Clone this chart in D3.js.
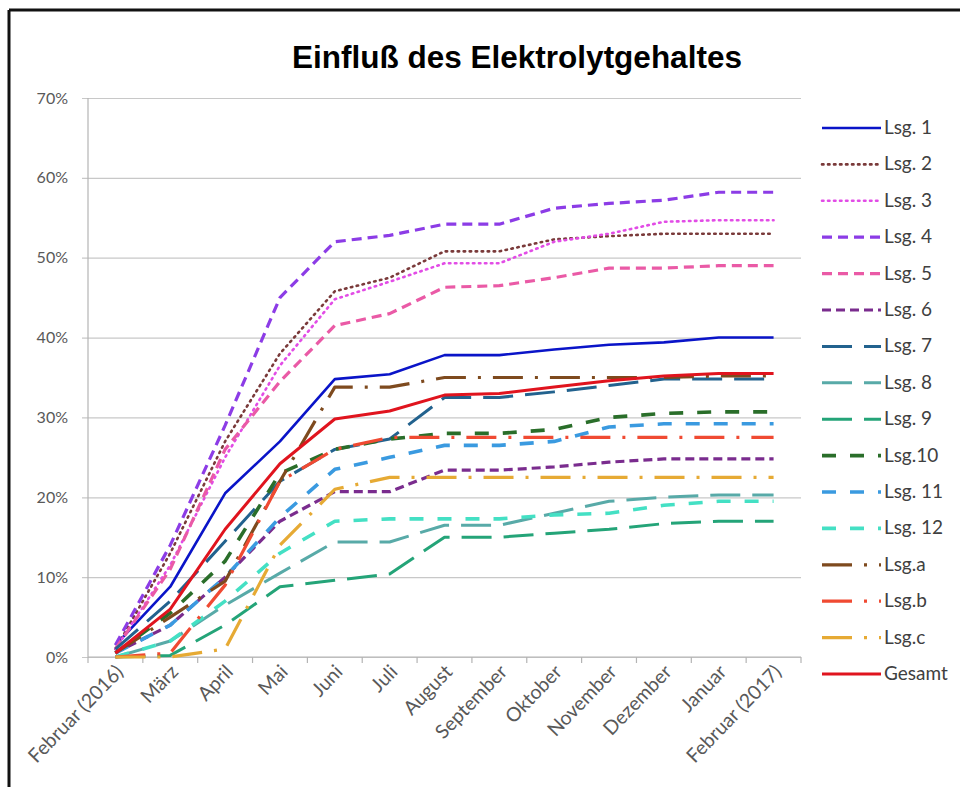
<!DOCTYPE html>
<html lang="de">
<head>
    <meta charset="UTF-8">
    <script src="https://d3js.org/d3.v7.min.js"></script>
    <title>Einfluß des Elektrolytgehaltes</title>
    <style>
        body {
            margin: 0;
            background-color: #ffffff;
        }
        .tick-label {
            font-family: Lato, "Open Sans", sans-serif;
            font-size: 16px;
            fill: #595959;
        }
        .x-label {
            font-family: Lato, "Open Sans", sans-serif;
            font-size: 19.5px;
            fill: #595959;
        }
        .legend-label {
            font-family: Lato, "Open Sans", sans-serif;
            font-size: 19px;
            fill: #404040;
        }
        .title {
            font-family: "Liberation Sans", Arial, sans-serif;
            font-weight: bold;
            font-size: 31.5px;
            fill: #000000;
        }
    </style>
</head>
<body>
    <div id="chart"></div>

    <script>
        const months = ["Februar (2016)", "März", "April", "Mai", "Juni", "Juli", "August",
            "September", "Oktober", "November", "Dezember", "Januar", "Februar (2017)"];
        const yTicks = [0, 10, 20, 30, 40, 50, 60, 70];

        // Werte in Prozent
        const lsg1 = [1.5, 8.8, 20.5, 27, 34.8, 35.4, 37.8, 37.8, 38.5, 39.1, 39.4, 40, 40];
        const lsg2 = [1, 13, 27, 38, 45.8, 47.5, 50.8, 50.8, 52.3, 52.7, 53, 53, 53];
        const lsg3 = [1, 11.5, 25, 36.5, 44.8, 47, 49.3, 49.3, 52, 53, 54.5, 54.7, 54.7];
        const lsg4 = [1.5, 14, 29, 45, 52, 52.8, 54.2, 54.2, 56.2, 56.8, 57.2, 58.2, 58.2];
        const lsg5 = [1, 11, 26, 34.5, 41.5, 43, 46.3, 46.5, 47.5, 48.7, 48.7, 49, 49];
        const lsg6 = [0.5, 4, 10, 17, 20.7, 20.7, 23.4, 23.4, 23.8, 24.4, 24.8, 24.8, 24.8];
        const lsg7 = [1, 7, 14.5, 22, 26, 27.3, 32.5, 32.5, 33.2, 34, 34.8, 34.8, 34.8];
        const lsg8 = [0, 2, 6.5, 10.5, 14.4, 14.4, 16.5, 16.5, 18, 19.5, 20, 20.3, 20.3];
        const lsg9 = [0, 0.2, 4, 8.8, 9.6, 10.4, 15, 15, 15.5, 16, 16.7, 17, 17];
        const lsg10 = [0.5, 5.5, 12, 23, 26, 27.3, 28, 28, 28.5, 30, 30.5, 30.7, 30.7];
        const lsg11 = [0.5, 4, 10, 17.5, 23.5, 25, 26.5, 26.5, 27, 28.8, 29.2, 29.2, 29.2];
        const lsg12 = [0, 2, 7, 13, 17, 17.3, 17.3, 17.3, 17.8, 18, 19, 19.5, 19.5];
        const lsgA = [0.5, 5, 9.5, 22, 33.8, 33.8, 35, 35, 35, 35, 35, 35.2, 35.2];
        const lsgB = [0, 0.5, 9, 22, 26, 27.5, 27.5, 27.5, 27.5, 27.5, 27.5, 27.5, 27.5];
        const lsgC = [0, 0, 1, 14, 21, 22.5, 22.5, 22.5, 22.5, 22.5, 22.5, 22.5, 22.5];
        const gesamt = [0.5, 6, 16, 24.2, 29.8, 30.8, 32.8, 33, 33.8, 34.6, 35.2, 35.5, 35.5];

        const series = [
            { name: "Lsg. 1", values: lsg1, color: "#0a14c8", dash: null, width: 2.6 },
            { name: "Lsg. 2", values: lsg2, color: "#7a3a3a", dash: "1.5,4.5", width: 2.6, cap: "round" },
            { name: "Lsg. 3", values: lsg3, color: "#e24ce6", dash: "1.5,4.5", width: 2.6, cap: "round" },
            { name: "Lsg. 4", values: lsg4, color: "#8c3ce6", dash: "10,6", width: 3.2 },
            { name: "Lsg. 5", values: lsg5, color: "#ea5aa6", dash: "10,6", width: 3.2 },
            { name: "Lsg. 6", values: lsg6, color: "#7a2c8e", dash: "9,5", width: 3.2 },
            { name: "Lsg. 7", values: lsg7, color: "#22628e", dash: "30,12", width: 3 },
            { name: "Lsg. 8", values: lsg8, color: "#58aaa8", dash: "30,12", width: 3 },
            { name: "Lsg. 9", values: lsg9, color: "#24a478", dash: "30,12", width: 3 },
            { name: "Lsg.10", values: lsg10, color: "#2a6e2a", dash: "14,14", width: 3.6 },
            { name: "Lsg. 11", values: lsg11, color: "#3a9ae0", dash: "14,14", width: 3.6 },
            { name: "Lsg. 12", values: lsg12, color: "#44e0c4", dash: "14,14", width: 3.6 },
            { name: "Lsg.a", values: lsgA, color: "#7e4a1e", dash: "30,12,3,12", width: 3.2 },
            { name: "Lsg.b", values: lsgB, color: "#f04a32", dash: "30,12,3,12", width: 3.2 },
            { name: "Lsg.c", values: lsgC, color: "#e6aa34", dash: "30,12,3,12", width: 3.2 },
            { name: "Gesamt", values: gesamt, color: "#e0141e", dash: null, width: 3 }
        ];

        const width = 960;
        const height = 787;
        const plot = { left: 88, right: 801, top: 98, bottom: 657 };

        const svg = d3.select("#chart").append("svg")
            .attr("width", width)
            .attr("height", height);

        // Rahmen (nur oben und links sichtbar)
        svg.append("line").attr("x1", 9).attr("x2", width).attr("y1", 10).attr("y2", 10)
            .attr("stroke", "#111").attr("stroke-width", 3);
        svg.append("line").attr("x1", 9).attr("x2", 9).attr("y1", 10).attr("y2", height)
            .attr("stroke", "#111").attr("stroke-width", 3);

        svg.append("text")
            .attr("class", "title")
            .attr("x", 517)
            .attr("y", 68)
            .attr("text-anchor", "middle")
            .text("Einfluß des Elektrolytgehaltes");

        const x = d3.scaleBand()
            .domain(months)
            .range([plot.left, plot.right])
            .padding(0);
        const cx = m => x(m) + x.bandwidth() / 2;

        const y = d3.scaleLinear()
            .domain([0, 70])
            .range([plot.bottom, plot.top]);

        // Gitternetz + y-Achse
        svg.append("g")
            .attr("transform", `translate(${plot.left},0)`)
            .call(d3.axisLeft(y)
                .tickValues(yTicks)
                .tickSize(-(plot.right - plot.left))
                .tickPadding(20)
                .tickFormat(d => d + "%"))
            .call(g => g.select(".domain").remove())
            .call(g => g.selectAll(".tick line")
                .attr("x1", -6)
                .attr("stroke", "#c8c8c8")
                .attr("stroke-width", 1.2))
            .call(g => g.selectAll(".tick text")
                .attr("class", "tick-label")
                .attr("font-family", null)
                .attr("font-size", null));

        svg.append("line")
            .attr("x1", plot.left).attr("x2", plot.left)
            .attr("y1", plot.top).attr("y2", plot.bottom)
            .attr("stroke", "#b4b4b4").attr("stroke-width", 1.2);

        // x-Achse mit Teilstrichen zwischen den Kategorien
        const xAxis = svg.append("g");
        xAxis.append("line")
            .attr("x1", plot.left).attr("x2", plot.right)
            .attr("y1", plot.bottom).attr("y2", plot.bottom)
            .attr("stroke", "#b4b4b4").attr("stroke-width", 1.2);
        xAxis.selectAll(".xtick")
            .data(months.concat([null]))
            .enter()
            .append("line")
            .attr("x1", (d, i) => plot.left + i * x.bandwidth())
            .attr("x2", (d, i) => plot.left + i * x.bandwidth())
            .attr("y1", plot.bottom)
            .attr("y2", plot.bottom + 6)
            .attr("stroke", "#b4b4b4").attr("stroke-width", 1.2);
        xAxis.selectAll(".xlabel")
            .data(months)
            .enter()
            .append("text")
            .attr("class", "x-label")
            .attr("text-anchor", "end")
            .attr("transform", d => `translate(${cx(d) + 9},${plot.bottom + 16}) rotate(-46)`)
            .text(d => d);

        // Linien
        const line = d3.line()
            .x((d, i) => cx(months[i]))
            .y(d => y(d));

        svg.append("g")
            .selectAll("path")
            .data(series)
            .enter()
            .append("path")
            .attr("d", d => line(d.values))
            .attr("fill", "none")
            .attr("stroke", d => d.color)
            .attr("stroke-width", d => d.width)
            .attr("stroke-dasharray", d => d.dash)
            .attr("stroke-linecap", d => d.cap || "butt")
            .attr("stroke-linejoin", "round");

        // Legende
        const legend = svg.append("g")
            .selectAll("g")
            .data(series)
            .enter()
            .append("g")
            .attr("transform", (d, i) => `translate(822,${128 + i * 36.4})`);

        legend.append("line")
            .attr("x1", 0).attr("x2", 59)
            .attr("stroke", d => d.color)
            .attr("stroke-width", d => d.width)
            .attr("stroke-dasharray", d => d.dash)
            .attr("stroke-linecap", d => d.cap || "butt");

        legend.append("text")
            .attr("class", "legend-label")
            .attr("x", 62)
            .attr("y", 6)
            .text(d => d.name);
    </script>
</body>
</html>
